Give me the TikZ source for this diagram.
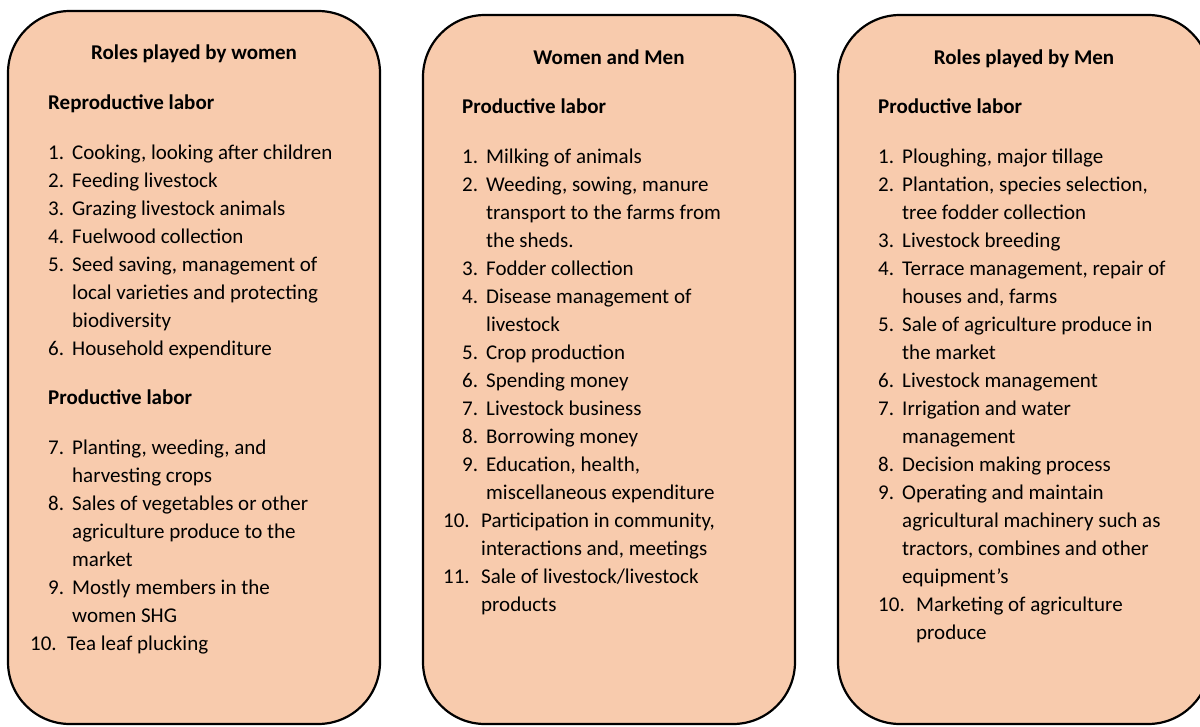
\documentclass[tikz,border=0pt]{standalone}
\usepackage{fontspec}
\setmainfont{Carlito}
\definecolor{boxfill}{HTML}{F8CBAD}
\begin{document}
\begin{tikzpicture}[x=1pt,y=-1pt,
  box/.style={draw=black,line width=2.2pt,fill=boxfill,rounded corners=62pt},
  txt/.style={inner sep=0pt,anchor=base west,font=\fontsize{21}{28}\selectfont},
  head/.style={inner sep=0pt,anchor=base,font=\fontsize{21}{28}\selectfont\bfseries},
  sub/.style={inner sep=0pt,anchor=base west,font=\fontsize{21}{28}\selectfont\bfseries}]
\useasboundingbox (0,0) rectangle (1200,726);
\clip (0,0) rectangle (1200,726);
\fill[white] (0,0) rectangle (1200,726);
% boxes
\draw[box] (8,11) rectangle (380,724);
\draw[box] (423,15) rectangle (795,724);
\draw[box] (838,15) rectangle (1210,724);
% ---------- box 1
\node[head] (h1) at (194,59) {Roles played by women};
\node[sub] (s1a) at (48,109) {Reproductive labor};
\node[txt] (a1n) at (48,159) {1.};  \node[txt] (a1) at (72,159) {Cooking, looking after children};
\node[txt] (a2n) at (48,187) {2.};  \node[txt] (a2) at (72,187) {Feeding livestock};
\node[txt] (a3n) at (48,215) {3.};  \node[txt] (a3) at (72,215) {Grazing livestock animals};
\node[txt] (a4n) at (48,243) {4.};  \node[txt] (a4) at (72,243) {Fuelwood collection};
\node[txt] (a5n) at (48,271) {5.};  \node[txt] (a5) at (72,271) {Seed saving, management of};
\node[txt] (a5b) at (72,299) {local varieties and protecting};
\node[txt] (a5c) at (72,327) {biodiversity};
\node[txt] (a6n) at (48,355) {6.};  \node[txt] (a6) at (72,355) {Household expenditure};
\node[sub] (s1b) at (48,404) {Productive labor};
\node[txt] (a7n) at (48,454) {7.};  \node[txt] (a7) at (72,454) {Planting, weeding, and};
\node[txt] (a7b) at (72,482) {harvesting crops};
\node[txt] (a8n) at (48,510) {8.};  \node[txt] (a8) at (72,510) {Sales of vegetables or other};
\node[txt] (a8b) at (72,538) {agriculture produce to the};
\node[txt] (a8c) at (72,566) {market};
\node[txt] (a9n) at (48,594) {9.};  \node[txt] (a9) at (72,594) {Mostly members in the};
\node[txt] (a9b) at (72,622) {women SHG};
\node[txt] (a10n) at (30,650) {10.}; \node[txt] (a10) at (67,650) {Tea leaf plucking};
% ---------- box 2
\node[head] (h2) at (609,64) {Women and Men};
\node[sub] (s2) at (462,113) {Productive labor};
\node[txt] (b1n) at (462,163) {1.};  \node[txt] (b1) at (486,163) {Milking of animals};
\node[txt] (b2n) at (462,191) {2.};  \node[txt] (b2) at (486,191) {Weeding, sowing, manure};
\node[txt] (b2b) at (486,219) {transport to the farms from};
\node[txt] (b2c) at (486,247) {the sheds.};
\node[txt] (b3n) at (462,275) {3.};  \node[txt] (b3) at (486,275) {Fodder collection};
\node[txt] (b4n) at (462,303) {4.};  \node[txt] (b4) at (486,303) {Disease management of};
\node[txt] (b4b) at (486,331) {livestock};
\node[txt] (b5n) at (462,359) {5.};  \node[txt] (b5) at (486,359) {Crop production};
\node[txt] (b6n) at (462,387) {6.};  \node[txt] (b6) at (486,387) {Spending money};
\node[txt] (b7n) at (462,415) {7.};  \node[txt] (b7) at (486,415) {Livestock business};
\node[txt] (b8n) at (462,443) {8.};  \node[txt] (b8) at (486,443) {Borrowing money};
\node[txt] (b9n) at (462,471) {9.};  \node[txt] (b9) at (486,471) {Education, health,};
\node[txt] (b9b) at (486,499) {miscellaneous expenditure};
\node[txt] (b10n) at (443,527) {10.}; \node[txt] (b10) at (481,527) {Participation in community,};
\node[txt] (b10b) at (481,555) {interactions and, meetings};
\node[txt] (b11n) at (443,583) {11.}; \node[txt] (b11) at (481,583) {Sale of livestock/livestock};
\node[txt] (b11b) at (481,611) {products};
% ---------- box 3
\node[head] (h3) at (1024,64) {Roles played by Men};
\node[sub] (s3) at (878,113) {Productive labor};
\node[txt] (c1n) at (878,163) {1.};  \node[txt] (c1) at (902,163) {Ploughing, major tillage};
\node[txt] (c2n) at (878,191) {2.};  \node[txt] (c2) at (902,191) {Plantation, species selection,};
\node[txt] (c2b) at (902,219) {tree fodder collection};
\node[txt] (c3n) at (878,247) {3.};  \node[txt] (c3) at (902,247) {Livestock breeding};
\node[txt] (c4n) at (878,275) {4.};  \node[txt] (c4) at (902,275) {Terrace management, repair of};
\node[txt] (c4b) at (902,303) {houses and, farms};
\node[txt] (c5n) at (878,331) {5.};  \node[txt] (c5) at (902,331) {Sale of agriculture produce in};
\node[txt] (c5b) at (902,359) {the market};
\node[txt] (c6n) at (878,387) {6.};  \node[txt] (c6) at (902,387) {Livestock management};
\node[txt] (c7n) at (878,415) {7.};  \node[txt] (c7) at (902,415) {Irrigation and water};
\node[txt] (c7b) at (902,443) {management};
\node[txt] (c8n) at (878,471) {8.};  \node[txt] (c8) at (902,471) {Decision making process};
\node[txt] (c9n) at (878,499) {9.};  \node[txt] (c9) at (902,499) {Operating and maintain};
\node[txt] (c9b) at (902,527) {agricultural machinery such as};
\node[txt] (c9c) at (902,555) {tractors, combines and other};
\node[txt] (c9d) at (902,583) {equipment’s};
\node[txt] (c10n) at (878,611) {10.}; \node[txt] (c10) at (916,611) {Marketing of agriculture};
\node[txt] (c10b) at (916,639) {produce};
\end{tikzpicture}
\end{document}
